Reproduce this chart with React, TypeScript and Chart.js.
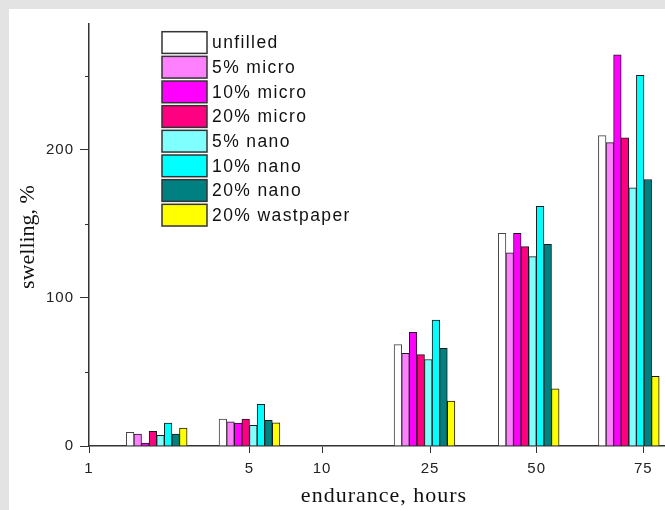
import React, { useEffect, useRef } from 'react';
import { Chart, registerables } from 'chart.js';

Chart.register(...registerables);

// Series
const seriesLabels = ['unfilled', '5% micro', '10% micro', '20% micro', '5% nano', '10% nano', '20% nano', '20% wastpaper'];
const seriesColors = ['#ffffff', '#ff80ff', '#ff00ff', '#ff0080', '#80ffff', '#00ffff', '#008080', '#ffff00'];

// X axis (the original axis is non-uniform): tick labels and their positions on the axis
const tickLabels = ['1', '5', '10', '25', '50', '75'];
const tickPositions = [0, 16.03, 23.3, 34.1, 44.77, 55.43];
// Position of each bar group on that axis
const groupPositions = [6.77, 16.05, 33.55, 43.97, 53.98];

// Swelling, %
const unfilled = [9.2, 18.2, 68.5, 143.6, 209.6];
const micro5 = [8.1, 16.4, 62.6, 130.4, 204.9];
const micro10 = [2.0, 15.5, 76.8, 143.6, 264.2];
const micro20 = [9.9, 18.2, 61.7, 134.7, 208.1];
const nano5 = [7.2, 13.9, 58.4, 127.9, 174.4];
const nano10 = [15.5, 28.1, 85.1, 161.8, 250.3];
const nano20 = [8.1, 17.3, 66.0, 136.2, 180.0];
const wastpaper = [12.1, 15.7, 30.3, 38.6, 47.1];

const seriesValues = [unfilled, micro5, micro10, micro20, nano5, nano10, nano20, wastpaper];

const yMinorTicks = [50, 150, 250];

const SANS = "'Liberation Sans', Arial, sans-serif";
const SERIF = "'Liberation Serif', 'Times New Roman', serif";

const decorPlugin = {
  id: 'decor',
  beforeDraw(chart: any) {
    chart.ctx.letterSpacing = '1px';
  },
  afterDraw(chart: any) {
    const ctx = chart.ctx as CanvasRenderingContext2D;
    const ys = chart.scales.y;
    const area = chart.chartArea;
    ctx.save();
    // minor y ticks
    ctx.strokeStyle = '#333';
    ctx.lineWidth = 1;
    for (const v of yMinorTicks) {
      const py = Math.round(ys.getPixelForValue(v)) + 0.5;
      ctx.beginPath();
      ctx.moveTo(area.left - 4, py);
      ctx.lineTo(area.left, py);
      ctx.stroke();
    }
    // y title
    (ctx as any).letterSpacing = '0px';
    ctx.save();
    ctx.translate(19, (area.top + area.bottom) / 2 + 2);
    ctx.rotate(-Math.PI / 2);
    ctx.fillStyle = '#111';
    ctx.font = `22px ${SERIF}`;
    ctx.textAlign = 'center';
    ctx.textBaseline = 'middle';
    ctx.fillText('swelling, %', 0, 0);
    ctx.restore();
    // legend
    (ctx as any).letterSpacing = '1.4px';
    const bx = 153;
    const by = 22.7;
    const step = 24.66;
    const bw = 45;
    const bh = 21.7;
    chart.data.datasets.forEach((ds: any, i: number) => {
      const top = by + step * i;
      ctx.fillStyle = ds.backgroundColor;
      ctx.fillRect(bx, top, bw, bh);
      ctx.strokeStyle = '#333';
      ctx.lineWidth = 1.5;
      ctx.strokeRect(bx, top, bw, bh);
      ctx.fillStyle = '#111';
      ctx.font = `17.5px ${SANS}`;
      ctx.textAlign = 'left';
      ctx.textBaseline = 'middle';
      ctx.fillText(ds.label, bx + bw + 5, top + bh / 2 + 1);
    });
    ctx.restore();
  },
};

export default function App() {
  const ref = useRef<HTMLCanvasElement>(null);

  useEffect(() => {
    const datasets = seriesLabels.map((label, si) => ({
      label,
      data: groupPositions.map((x, gi) => ({ x, y: seriesValues[si][gi] })),
      backgroundColor: seriesColors[si],
      borderColor: si === 0 ? '#444' : '#1a1a1a',
      borderWidth: 1,
      barThickness: 7.6,
    }));

    const chart = new Chart(ref.current!, {
      type: 'bar',
      data: { datasets },
      options: {
        animation: false,
        responsive: false,
        devicePixelRatio: 1,
        events: [],
        layout: { padding: { top: 13, left: 0, right: 0, bottom: 0 } },
        plugins: {
          legend: { display: false },
          tooltip: { enabled: false },
        },
        scales: {
          x: {
            type: 'linear',
            min: 0,
            max: 59,
            offset: false,
            afterBuildTicks: (scale: any) => {
              scale.ticks = tickPositions.map((v) => ({ value: v }));
            },
            afterFit: (scale: any) => {
              scale.height = 64;
            },
            ticks: {
              autoSkip: false,
              maxRotation: 0,
              padding: 7,
              color: '#222',
              font: { family: SANS, size: 15 },
              callback: (_v: any, i: number) => tickLabels[i],
            },
            grid: {
              display: true,
              drawOnChartArea: false,
              drawTicks: true,
              tickLength: 7,
              color: '#333',
              lineWidth: 1,
              offset: false,
            },
            border: { display: true, color: '#333', width: 1.5 },
            title: {
              display: true,
              text: 'endurance, hours',
              color: '#111',
              font: { family: SERIF, size: 22, lineHeight: 1.2 },
              padding: { top: 0, bottom: 1 },
            },
          },
          y: {
            min: 0,
            max: 285,
            afterFit: (scale: any) => {
              scale.width = 80;
            },
            ticks: {
              stepSize: 100,
              includeBounds: false,
              padding: 6,
              color: '#222',
              font: { family: SANS, size: 15 },
            },
            grid: {
              display: true,
              drawOnChartArea: false,
              drawTicks: true,
              tickLength: 9,
              color: '#333',
              lineWidth: 1,
            },
            border: { display: true, color: '#333', width: 1.5 },
            title: { display: false },
          },
        },
      },
      plugins: [decorPlugin],
    } as any);

    return () => chart.destroy();
  }, []);

  return (
    <div
      style={{
        position: 'fixed',
        left: 0,
        top: 0,
        width: 665,
        height: 510,
        overflow: 'hidden',
        background: '#e3e3e3',
      }}
    >
      <div
        style={{
          position: 'absolute',
          left: 9,
          top: 9,
          width: 700,
          height: 501,
          background: '#ffffff',
        }}
      >
        <canvas ref={ref} width={670} height={501} style={{ display: 'block' }} />
      </div>
    </div>
  );
}
